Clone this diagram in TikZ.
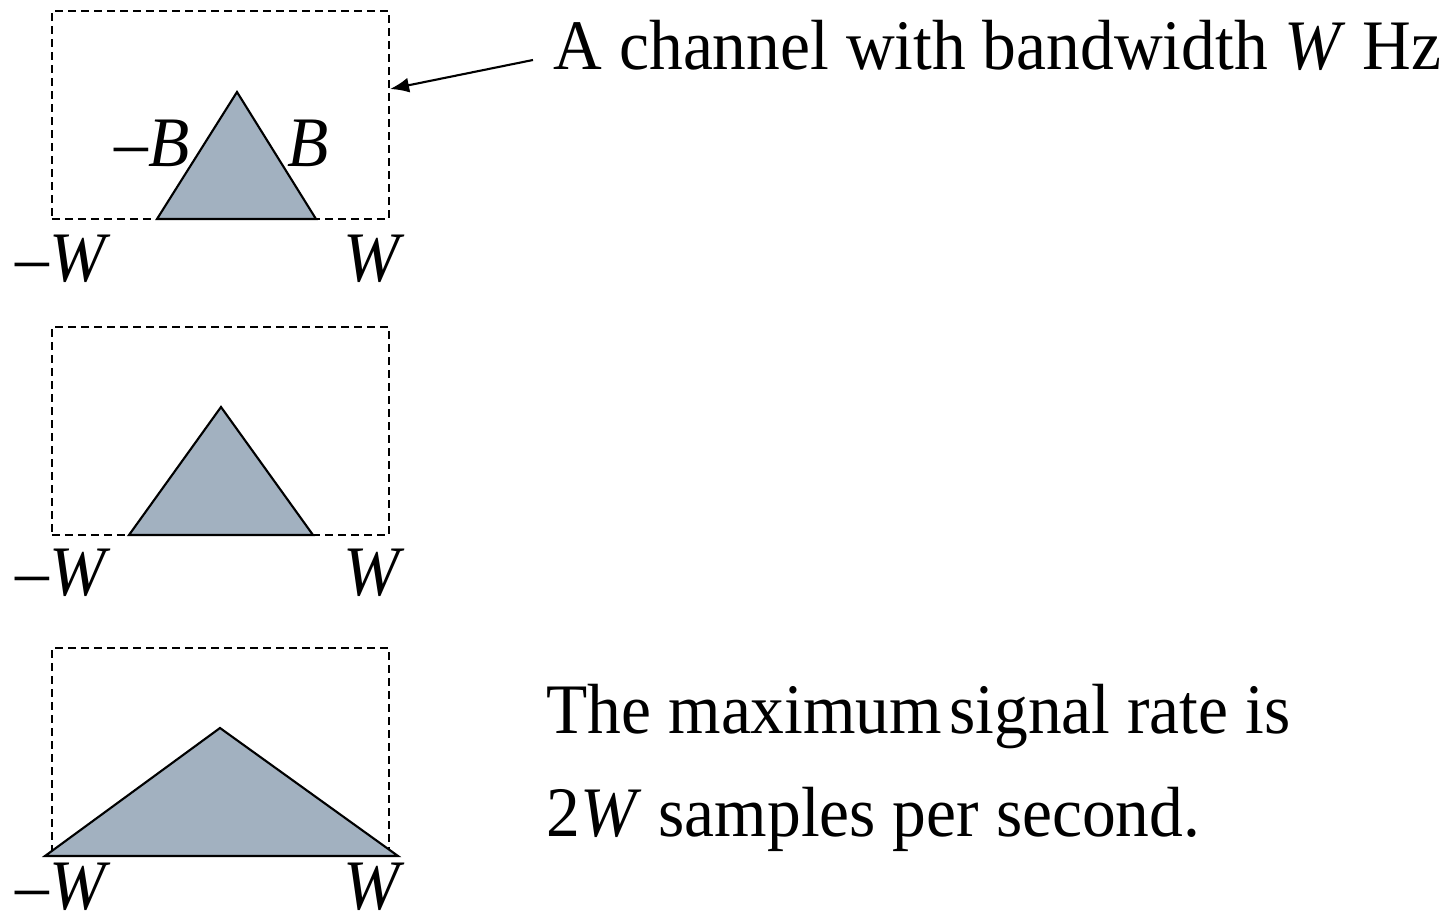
\documentclass[tikz,border=0pt]{standalone}
\usepackage{fontspec}
\setmainfont{Liberation Serif}[FakeStretch=0.95]
\usepackage{tikz}
\usetikzlibrary{arrows.meta,positioning,calc}
\definecolor{bandfill}{HTML}{A2B1C0}
\tikzset{chanbox/.style={draw,dash pattern=on 2.3pt off 1.4pt,line width=0.55pt,minimum width=3.37cm,minimum height=2.08cm,inner sep=0},band/.style={draw,fill=bandfill,line width=0.6pt,line join=miter},lab/.style={anchor=base west,inner sep=0,font=\fontsize{20.2pt}{24pt}\selectfont},arr/.style={-{Latex[length=1.9mm,width=1.5mm]},line width=0.6pt}}
\begin{document}
\begin{tikzpicture}[x=0.01cm,y=-0.01cm]
\useasboundingbox (0,0) rectangle (1446,919);
% channel boxes
\node[chanbox] (box1) at (220.5,115) {};
\node[chanbox] (box2) at (220.5,431) {};
\node[chanbox] (box3) at (220.5,752) {};
% signal spectra
\draw[band] (157,219) -- (237,92) -- (316,219) -- cycle;
\draw[band] (129,535) -- (221,407) -- (313,535) -- cycle;
\draw[band] (45,856) -- (220,728) -- (398,856) -- cycle;
% band edge labels
\node[lab] (mb) at (114,167) {–\textit{B}};
\node[lab] (pb) at (287,167) {\textit{B}};
\node[lab] (mw1) at (15,282) {–\textit{W}};
\node[lab] (pw1) at (343,282) {\textit{W}};
\node[lab] (mw2) at (15,596) {–\textit{W}};
\node[lab] (pw2) at (343,596) {\textit{W}};
\node[lab] (mw3) at (15,909) {–\textit{W}};
\node[lab] (pw3) at (343,909) {\textit{W}};
% text
\node[lab] (title) at (553,70) {A channel with bandwidth \textit{W} Hz};
\node[lab] (rate1) at (546,733) {The maximum\kern0.1em signal rate is};
\node[lab] (rate2) at (546,836) {2\textit{W}\/ samples per second.};
\draw[arr] ([shift={(-20,-10)}]title.base west) -- ([yshift=-0.79cm]box1.north east);
\end{tikzpicture}
\end{document}
